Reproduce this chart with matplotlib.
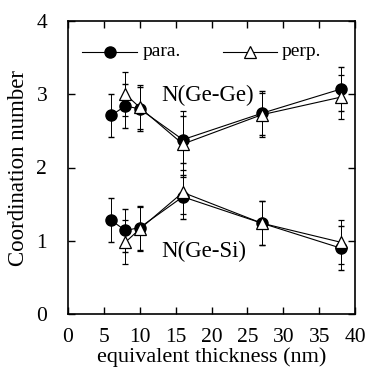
import matplotlib
matplotlib.use("Agg")
import matplotlib.pyplot as plt

plt.rcParams['font.family'] = ['Liberation Serif', 'DejaVu Serif']

thickness_para = [6, 8, 10, 16, 27, 38]
thickness_perp = [8, 10, 16, 27, 38]

gege_para = [2.71, 2.84, 2.80, 2.38, 2.74, 3.07]
gege_para_err = [0.30, 0.30, 0.30, 0.32, 0.30, 0.30]
gege_perp = [3.00, 2.82, 2.32, 2.72, 2.96]
gege_perp_err = [0.30, 0.30, 0.45, 0.30, 0.30]

gesi_para = [1.28, 1.14, 1.18, 1.60, 1.24, 0.90]
gesi_para_err = [0.30, 0.30, 0.30, 0.30, 0.30, 0.30]
gesi_perp = [0.98, 1.16, 1.66, 1.24, 0.98]
gesi_perp_err = [0.30, 0.30, 0.30, 0.30, 0.30]

fig = plt.figure(figsize=(3.67, 3.72), dpi=100)
ax = fig.add_axes([68 / 367, 58 / 372, 287 / 367, 293 / 372])

for y, e in [(gege_para, gege_para_err), (gesi_para, gesi_para_err)]:
    ax.errorbar(thickness_para, y, yerr=e, color='black', lw=0.8, elinewidth=0.7,
                capsize=2, marker='o', ms=8, mfc='black', mec='black')
for y, e in [(gege_perp, gege_perp_err), (gesi_perp, gesi_perp_err)]:
    ax.errorbar(thickness_perp, y, yerr=e, color='black', lw=0.8, elinewidth=0.7,
                capsize=2, marker='^', ms=9, mfc='white', mec='black', mew=0.9)

# legend drawn as in the original, inside the frame
ax.plot([1.95, 9.6], [3.58, 3.58], color='black', lw=0.8)
ax.plot([5.85], [3.58], 'o', color='black', ms=8)
ax.text(10.4, 3.58, 'para.', fontsize=14, va='center')
ax.plot([21.6, 29.1], [3.58, 3.58], color='black', lw=0.8)
ax.plot([25.4], [3.58], '^', color='black', ms=9, mfc='white', mew=0.9)
ax.text(29.8, 3.58, 'perp.', fontsize=14, va='center')

ax.text(19.4, 2.99, 'N(Ge-Ge)', fontsize=16.5, ha='center', va='center')
ax.text(18.9, 0.85, 'N(Ge-Si)', fontsize=16.5, ha='center', va='center')

ax.set_xlim(0, 40)
ax.set_ylim(0, 4)
ax.set_xticks(range(0, 41, 5))
ax.set_yticks(range(0, 5))
ax.tick_params(direction='in', top=True, right=True, length=5, width=1,
               labelsize=15.5)
ax.tick_params(axis='x', pad=10)
ax.tick_params(axis='y', pad=15)
for s in ax.spines.values():
    s.set_linewidth(1.2)
ax.set_xlabel('equivalent thickness (nm)', fontsize=16, labelpad=0)
ax.set_ylabel('Coordination number', fontsize=16.5, labelpad=5)

fig.savefig('out.png', dpi=100)
